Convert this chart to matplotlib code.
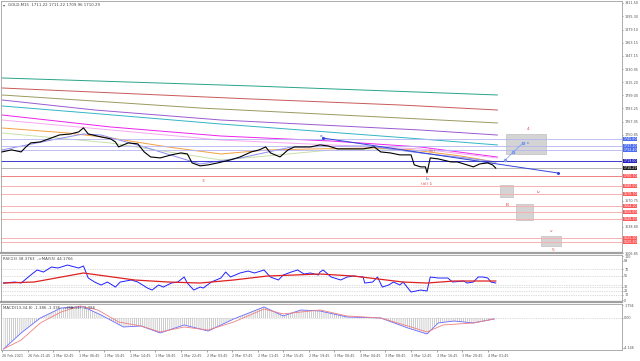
import matplotlib.pyplot as plt
from matplotlib.patches import Rectangle

plt.rcParams['font.family'] = 'DejaVu Sans'
plt.rcParams['hatch.color'] = '#b8b8b8'
plt.rcParams['hatch.linewidth'] = 0.5

# ---- data (x = M15 bar index) ----
price_bar = [0, 6, 12, 15, 18, 24, 31, 36, 43, 48, 51, 54, 62, 68, 71, 73, 79, 85, 89, 93,
             99, 106, 112, 116, 119, 124, 129, 135, 143, 149, 156, 161, 165, 168, 174, 179, 183, 187, 193, 199,
             204, 210, 218, 226, 233, 237, 243, 249, 256, 258, 262, 265, 266, 268, 273, 281, 285, 291, 295, 299,
             304, 307, 309]
price_val = [1730.0, 1732.5, 1730.0, 1736.1, 1741.0, 1742.2, 1747.1, 1750.7, 1751.9, 1754.4,
             1759.3, 1751.9, 1748.3, 1745.9, 1742.2, 1736.1, 1741.0, 1739.8, 1730.0, 1723.9,
             1722.7, 1726.4, 1728.8, 1727.6, 1716.6, 1713.0, 1714.2, 1716.6, 1720.3, 1723.9,
             1730.0, 1732.5, 1736.1, 1728.8, 1723.9, 1732.5, 1736.1, 1736.1, 1736.1, 1738.5,
             1737.3, 1733.7, 1733.7, 1733.7, 1736.1, 1730.0, 1728.8, 1726.4, 1726.4, 1714.2,
             1711.8, 1711.8, 1704.5, 1722.7, 1721.5, 1717.8, 1717.8, 1714.2, 1711.8, 1715.4,
             1716.6, 1714.2, 1710.3]

# moving averages: (color, bars, prices)
ma_lines = [
    ('#2aa38a', [0, 156, 310], [1820.1, 1810.4, 1799.4]),
    ('#c85a5a', [0, 156, 249, 310], [1807.9, 1794.5, 1787.2, 1781.1]),
    ('#9a9a60', [0, 124, 249, 310], [1799.4, 1783.5, 1771.4, 1765.3]),
    ('#9b59d0', [0, 58, 137, 262, 310], [1793.3, 1781.1, 1768.9, 1756.7, 1750.6]),
    ('#33b5c5', [0, 62, 137, 262, 310], [1786.0, 1776.2, 1764.0, 1745.8, 1738.5]),
    ('#ee22ee', [0, 68, 137, 206, 262, 310], [1775.0, 1760.4, 1749.4, 1743.3, 1736.0, 1723.8]),
    ('#f5a8f0', [0, 137, 262, 310], [1768.9, 1744.5, 1733.6, 1722.6]),
    ('#f5a040', [0, 41, 68, 104, 137, 166, 193, 232, 257, 287, 309],
     [1759.2, 1753.1, 1747.0, 1736.0, 1727.5, 1732.4, 1733.6, 1734.8, 1732.4, 1725.1, 1717.7]),
    ('#c8e0a8', [0, 68, 137, 166, 206, 249, 309], [1753.1, 1740.9, 1720.2, 1725.1, 1732.4, 1732.4, 1716.5]),
    ('#8c8cf0', [0, 31, 51, 62, 87, 124, 149, 181, 229, 262, 291, 309],
     [1732.4, 1744.5, 1751.9, 1750.6, 1737.2, 1715.3, 1722.6, 1736.0, 1737.2, 1728.7, 1722.6, 1717.7]),
]

blue_lvls = [1745.8, 1737.2, 1732.4]
dark_lvl = 1719.0
cur_price = 1710.29
red_lvls = [1700.7, 1688.5, 1678.7, 1664.1, 1656.8, 1648.3, 1625.1, 1620.3]

trend_bar = [200.6, 348.0]
trend_val = [1747.0, 1704.3]
proj_bar = [315, 320, 326]
proj_val = [1720.2, 1729.9, 1740.9]

box_b0 = [315.6, 311.9, 321.9, 337.5]
box_b1 = [340.6, 320.0, 332.5, 350.0]
box_lo = [1727.5, 1675.1, 1647.1, 1615.4]
box_hi = [1751.9, 1689.7, 1666.6, 1627.6]

wave_txt = ['3', '4', 'c', 'iv', 'B', 'v', '5', 'a', 'b', '(iii) 1', '(iii)']
wave_bar = [126, 329, 329, 336, 316, 344, 345, 200, 266, 266, 269]
wave_val = [1694.6, 1758.0, 1740.9, 1681.2, 1665.3, 1633.6, 1610.5, 1749.4, 1697.0, 1690.9, 1731.1]

price_ticks = [1911.50, 1895.30, 1879.10, 1863.15, 1847.15, 1830.95, 1815.20, 1799.00,
               1783.25, 1767.05, 1750.85, 1670.75, 1638.80, 1606.85]

rsi_bar = [1, 8, 12, 18, 22, 26, 31, 35, 41, 48, 51, 54, 58, 62, 66, 71, 74, 81, 85, 91,
           94, 98, 101, 106, 110, 114, 116, 120, 124, 126, 131, 137, 140, 143, 149, 154, 158, 164, 168, 173,
           176, 181, 185, 189, 193, 198, 199, 201, 206, 212, 216, 220, 226, 227, 232, 235, 238, 242, 245, 249,
           251, 256, 262, 266, 268, 273, 279, 282, 289, 291, 295, 298, 301, 304, 306, 309]
rsi_val = [38.6, 40.9, 38.6, 56.8, 68.2, 63.6, 75.0, 72.7, 79.5, 72.7,
           77.3, 50.0, 40.9, 34.1, 40.9, 29.5, 40.9, 45.5, 40.9, 27.3,
           22.7, 34.1, 29.5, 38.6, 40.9, 52.3, 38.6, 22.7, 29.5, 27.3,
           40.9, 50.0, 63.6, 52.3, 61.4, 65.9, 61.4, 68.2, 52.3, 45.5,
           56.8, 63.6, 68.2, 59.1, 61.4, 56.8, 63.6, 68.2, 52.3, 45.5,
           52.3, 54.5, 52.3, 38.6, 40.9, 52.3, 29.5, 34.1, 40.9, 34.1,
           40.9, 18.2, 22.7, 20.5, 52.3, 50.0, 50.0, 40.9, 43.2, 38.6,
           40.9, 52.3, 52.3, 50.0, 40.9, 38.6]
rsi_ma_bar = [1, 20, 51, 83, 104, 124, 145, 166, 199, 220, 251, 266, 283, 309]
rsi_ma_val = [38.6, 40.9, 61.4, 45.5, 40.9, 38.6, 45.5, 54.5, 59.1, 54.5, 40.9, 38.6, 43.2, 43.2]
rsi_levels = [70, 55, 34, 30, 21, 12]
rsi_ticks = [100, 89, 70, 55, 30, 21, 12, 0]

macd_bar = [1, 12, 24, 37, 51, 62, 76, 87, 99, 114, 129, 145, 164, 176, 187, 199, 216, 237, 254, 266,
            273, 283, 295, 308]
macd_val = [-4.3, -2.08, 0.0, 1.39, 1.53, 0.42, -1.25, -1.11, -2.08, -0.97, -1.81, -0.14, 1.53, 0.28,
            1.11, 0.97, 0.14, 0.0, -1.39, -2.22, -0.69, -0.42, -0.69, -0.14]
sig_bar = [1, 12, 24, 37, 49, 60, 73, 87, 99, 114, 129, 145, 164, 176, 187, 199, 216, 237, 254, 266,
           276, 295, 308]
sig_val = [-4.3, -3.06, -0.69, 0.83, 1.67, 1.11, -0.56, -1.11, -1.94, -1.25, -1.67, -0.56, 1.25, 0.56,
           0.83, 1.11, 0.28, 0.0, -1.11, -1.94, -0.97, -0.69, -0.14]

time_labels = ['26 Feb 2021', '26 Feb 21:45', '1 Mar 02:45', '1 Mar 06:45', '1 Mar 10:45',
               '1 Mar 14:45', '1 Mar 18:45', '1 Mar 22:45', '2 Mar 03:45', '2 Mar 07:45',
               '2 Mar 11:45', '2 Mar 15:45', '2 Mar 19:45', '3 Mar 00:45', '3 Mar 04:45',
               '3 Mar 08:45', '3 Mar 12:45', '3 Mar 16:45', '3 Mar 20:45', '4 Mar 01:45']

# ---- layout ----
W, H = 640, 361
fig = plt.figure(figsize=(6.4, 3.61), dpi=100)


def panel(top, bottom):
    return fig.add_axes([1 / W, (H - bottom) / H, 621 / W, (bottom - top) / H])


ax = panel(1, 253)
ax_rsi = panel(255, 302)
ax_macd = panel(304, 350)
fs = 2.8   # header text
tfs = 2.4  # tick labels
for a in (ax, ax_rsi, ax_macd):
    a.set_xlim(-0.6, 388)
    a.set_xticks([])
    a.yaxis.tick_right()
    a.tick_params(axis='y', labelsize=tfs, length=1, width=0.4, pad=0.6, colors='#555555')
    for s in a.spines.values():
        s.set_color('#a0a0a0')
        s.set_linewidth(0.6)
ax.spines['bottom'].set_linewidth(1.6)
ax_rsi.spines['bottom'].set_linewidth(1.6)

# ---- main price panel ----
ax.set_ylim(1606.85, 1913.9)
ax.set_yticks(price_ticks)
ax.set_yticklabels(['%.2f' % t for t in price_ticks])

for col, bx, by in ma_lines:
    ax.plot(bx, by, color=col, lw=0.7)

for lv in blue_lvls:
    ax.axhline(lv, color='#b4b4f4', lw=0.6)
ax.axhline(dark_lvl, color='#3a3ad0', lw=0.7)
ax.axhline(cur_price, color='#a8a8a8', lw=0.6)
for i, lv in enumerate(red_lvls):
    ax.axhline(lv, color='#f08080' if i == 0 else '#f7b0b0', lw=0.7)

for i in range(len(box_b0)):
    ax.add_patch(Rectangle((box_b0[i], box_lo[i]), box_b1[i] - box_b0[i], box_hi[i] - box_lo[i],
                           fc='#d4d4d4', ec='#c0c0c0', lw=0.5))

ax.plot(trend_bar, trend_val, color='#3344dd', lw=0.7, marker='o', ms=1.2, mfc='white')
ax.plot(proj_bar, proj_val, color='#7799ee', lw=0.5, marker='o', ms=1.5, mfc='white')

ax.plot(price_bar, price_val, color='black', lw=0.8, zorder=5)

for t, bx, by in zip(wave_txt, wave_bar, wave_val):
    c = '#4060d0' if t in ('a', 'b', 'c') else '#e04848'
    ax.text(bx, by, t, color=c, fontsize=3.2, ha='center', va='center')

# price labels in boxes on the right axis
tr = ax.get_yaxis_transform()


def price_tag(lv, col):
    ax.text(1.002, lv, '%.2f' % lv, transform=tr, fontsize=2.3, color='white', va='center',
            bbox=dict(boxstyle='square,pad=0.12', fc=col, ec='none'))


for lv in blue_lvls:
    price_tag(lv, '#4a6cf0')
price_tag(dark_lvl, '#2020c0')
price_tag(cur_price, '#202020')
for lv in red_lvls:
    price_tag(lv, '#ff5a5a')

fig.text(3 / W, 1 - 5 / H, '\u25be', fontsize=3, color='#555555', va='center')
fig.text(8 / W, 1 - 5 / H, 'GOLD,M15  1711.22 1711.22 1709.96 1710.29', fontsize=fs,
         color='#444444', va='center')

# ---- RSI panel ----
ax_rsi.set_ylim(-4.5, 102.3)
for lv in rsi_levels:
    ax_rsi.axhline(lv, color='#bbbbbb', lw=0.5, ls=(0, (1, 1.5)))
ax_rsi.plot(rsi_bar, rsi_val, color='#2020ff', lw=0.7)
ax_rsi.plot(rsi_ma_bar, rsi_ma_val, color='#e02020', lw=0.9)
ax_rsi.set_yticks(rsi_ticks)
ax_rsi.set_yticklabels([str(t) for t in rsi_ticks])
fig.text(3 / W, 1 - 259 / H, 'RSI(13) 38.3763  ->MA(55) 44.1766', fontsize=fs, color='#444444', va='center')

# ---- MACD panel ----
ax_macd.set_ylim(-4.44, 1.94)
ax_macd.axhline(0, color='#bbbbbb', lw=0.5, ls=(0, (1, 1.5)))
ax_macd.fill_between(macd_bar, 0, macd_val, fc='none', ec='#b8b8b8', lw=0, hatch='|' * 8)
ax_macd.plot(macd_bar, macd_val, color='#6a6aff', lw=0.6)
ax_macd.plot(sig_bar, sig_val, color='#f08080', lw=0.6)
ax_macd.set_yticks([1.794, 0, -4.146])
ax_macd.set_yticklabels(['1.794', '0.00', '-4.146'])
fig.text(3 / W, 1 - 308 / H, 'MACD(13,34,8) -1.386 -1.336  ->MA(11) -1.386', fontsize=fs,
         color='#444444', va='center')

ax_macd.set_xticks(range(0, 16 * len(time_labels), 16))
ax_macd.set_xticklabels(time_labels)
ax_macd.tick_params(axis='x', labelsize=tfs, length=1.5, width=0.4, pad=1.5, colors='#555555')
for lbl in ax_macd.get_xticklabels():
    lbl.set_ha('left')

fig.savefig('out.png', dpi=100)
